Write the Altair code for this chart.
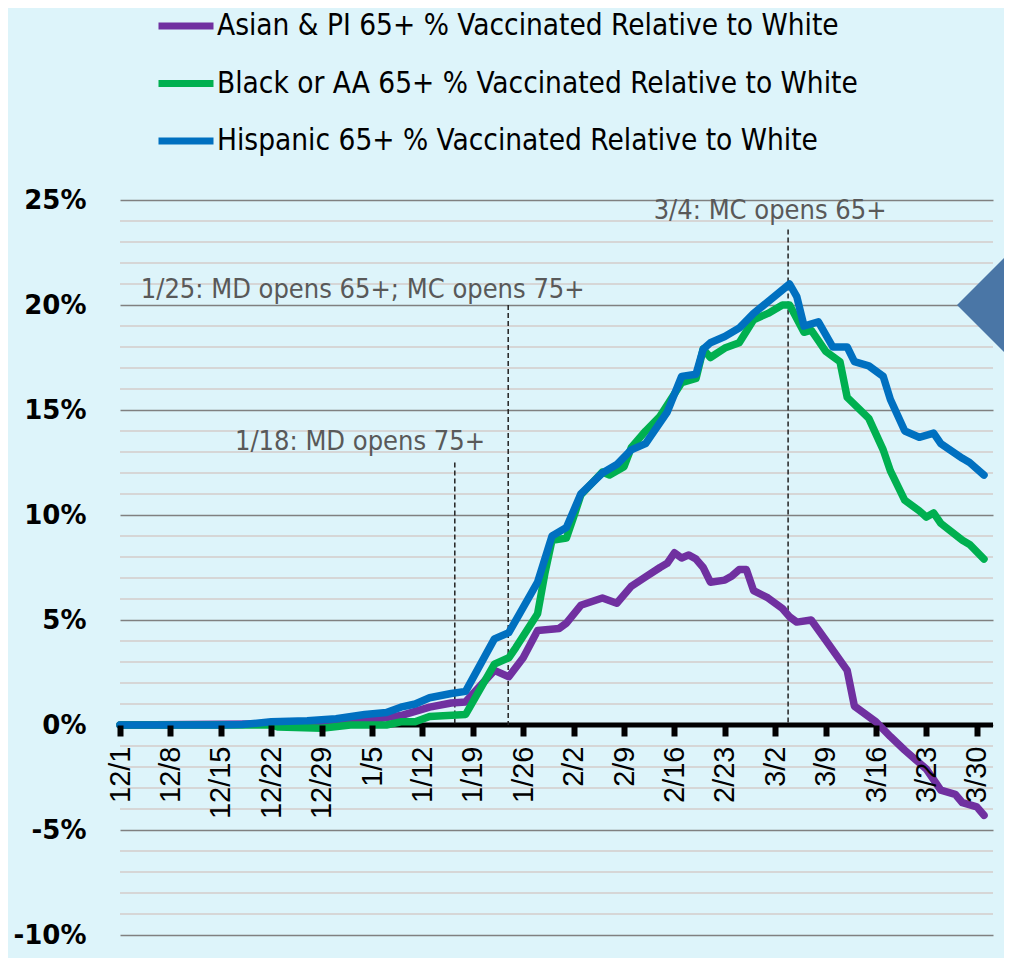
import altair as alt
import pandas as pd

# ---------------- data ----------------
series_names = [
    "Asian & PI 65+ % Vaccinated Relative to White",
    "Black or AA 65+ % Vaccinated Relative to White",
    "Hispanic 65+ % Vaccinated Relative to White",
]
series_colors = ["#7030A0", "#00B050", "#0070C0"]

asian_dates = ["12/1", "12/22", "12/29", "1/4", "1/7", "1/9", "1/13", "1/16", "1/18", "1/22",
               "1/24", "1/26", "1/28", "1/31", "2/1", "2/3", "2/6", "2/8", "2/10", "2/12",
               "2/14", "2/15", "2/16", "2/17", "2/18", "2/19", "2/20", "2/21", "2/23", "2/24",
               "2/25", "2/26", "2/27", "3/1", "3/3", "3/4", "3/5", "3/7", "3/9", "3/12",
               "3/13", "3/16", "3/18", "3/20", "3/22", "3/23", "3/25", "3/27", "3/28", "3/30",
               "3/31"]
asian_vals = [0, 0.05, 0.1, 0.2, 0.35, 0.45, 0.85, 1.05, 1.1, 2.6,
              2.3, 3.2, 4.5, 4.6, 4.85, 5.7, 6.05, 5.8, 6.6, 7.05,
              7.5, 7.7, 8.2, 7.95, 8.1, 7.9, 7.5, 6.8, 6.9, 7.1,
              7.4, 7.4, 6.4, 6.05, 5.55, 5.15, 4.9, 5.0, 4.05, 2.6,
              0.9, 0.15, -0.55, -1.2, -1.8, -2.1, -3.1, -3.3, -3.7, -3.9,
              -4.3]

black_dates = ["12/1", "12/22", "12/23", "12/29", "1/2", "1/7", "1/9", "1/11", "1/13", "1/18",
               "1/22", "1/24", "1/25", "1/28", "1/29", "1/30", "2/1", "2/2", "2/3", "2/6",
               "2/7", "2/9", "2/10", "2/12", "2/14", "2/17", "2/19", "2/20", "2/21", "2/23",
               "2/25", "2/27", "3/1", "3/3", "3/4", "3/6", "3/7", "3/9", "3/11", "3/12",
               "3/15", "3/17", "3/18", "3/20", "3/22", "3/23", "3/24", "3/25", "3/28", "3/29",
               "3/31"]
black_vals = [0, 0, -0.1, -0.15, 0, 0, 0.15, 0.15, 0.4, 0.5,
              2.9, 3.2, 3.7, 5.3, 7.2, 8.8, 8.9, 9.9, 10.95, 12.05,
              11.9, 12.3, 13.2, 14.0, 14.7, 16.3, 16.5, 17.9, 17.5, 17.95,
              18.2, 19.3, 19.6, 20.0, 20.0, 18.7, 18.8, 17.8, 17.3, 15.6,
              14.6, 13.1, 12.1, 10.7, 10.2, 9.9, 10.1, 9.6, 8.8, 8.6,
              7.9]

hisp_dates = ["12/1", "12/8", "12/15", "12/18", "12/22", "12/27", "12/31", "1/4", "1/7", "1/9",
              "1/11", "1/13", "1/16", "1/18", "1/22", "1/24", "1/28", "1/30", "2/1", "2/3",
              "2/6", "2/8", "2/10", "2/12", "2/15", "2/17", "2/19", "2/20", "2/21", "2/23",
              "2/25", "2/27", "3/4", "3/5", "3/6", "3/8", "3/10", "3/12", "3/13", "3/15",
              "3/17", "3/18", "3/20", "3/22", "3/24", "3/25", "3/28", "3/29", "3/31"]
hisp_vals = [0, 0, 0, 0.02, 0.15, 0.2, 0.3, 0.5, 0.6, 0.85,
             1.0, 1.3, 1.5, 1.6, 4.1, 4.4, 6.8, 9.0, 9.4, 11.0,
             12.0, 12.4, 13.1, 13.4, 14.9, 16.6, 16.7, 17.9, 18.2, 18.5,
             18.9, 19.6, 21.0, 20.4, 19.0, 19.2, 18.0, 18.0, 17.3, 17.1,
             16.6, 15.5, 14.0, 13.7, 13.9, 13.4, 12.7, 12.5, 11.9]

x_tick_labels = ["12/1", "12/8", "12/15", "12/22", "12/29", "1/5", "1/12", "1/19", "1/26",
                 "2/2", "2/9", "2/16", "2/23", "3/2", "3/9", "3/16", "3/23", "3/30"]
y_major_ticks = [-10, -5, 0, 5, 10, 15, 20, 25]
y_minor_ticks = [v for v in range(-10, 26) if v % 5 != 0]
zero_line = [0]

ann_labels = ["1/18: MD opens 75+", "1/25: MD opens 65+; MC opens 75+", "3/4: MC opens 65+"]
ann_line_dates = ["2021-01-16T12:00:00", "2021-01-23T22:00:00", "2021-03-03T19:00:00"]
ann_line_tops = [12.5, 20.0, 23.6]
ann_text_dates = ["2021-01-03T08:00:00", "2021-01-03T17:00:00", "2021-03-01T07:00:00"]
ann_text_y = [13.5, 20.7, 24.5]

marker_value = [20]


def md_year(md):
    m, d = (int(p) for p in md.split("/"))
    return (2020 if m == 12 else 2021), m, d


def to_ts(md):
    y, m, d = md_year(md)
    return pd.Timestamp(year=y, month=m, day=d)


def to_dt(md):
    y, m, d = md_year(md)
    return alt.DateTime(year=y, month=m, date=d)


rows = []
for name, dates, vals in [(series_names[0], asian_dates, asian_vals),
                          (series_names[1], black_dates, black_vals),
                          (series_names[2], hisp_dates, hisp_vals)]:
    for md, v in zip(dates, vals):
        rows.append({"series": name, "date": to_ts(md), "value": v})
df_lines = pd.DataFrame(rows)

df_ann_lines = pd.DataFrame({"date": pd.to_datetime(ann_line_dates), "top": ann_line_tops})
df_ann_text = pd.DataFrame({"date": pd.to_datetime(ann_text_dates), "y": ann_text_y, "label": ann_labels})
df_minor = pd.DataFrame({"v": y_minor_ticks})
df_zero = pd.DataFrame({"v": zero_line})
df_marker = pd.DataFrame({"v": marker_value})

# ---------------- styling ----------------
W, H = 873, 735
BG = "#DDF4FA"
NARROW = "Liberation Sans Narrow, DejaVu Sans Condensed, sans-serif"

x_scale = alt.Scale(domain=[alt.DateTime(year=2020, month=12, date=1),
                            alt.DateTime(year=2021, month=4, date=1, hours=6)])
y_scale = alt.Scale(domain=[-10, 25], nice=False, zero=False)

x_axis = alt.Axis(
    values=[to_dt(t) for t in x_tick_labels], format="%-m/%-d", title=None,
    labelAngle=-90, offset=-210, grid=False, domain=False, zindex=1,
    tickColor="black", tickWidth=6, tickSize=11,
    labelPadding=10, labelFont="Liberation Sans", labelFontSize=29,
    labelColor="black", labelOverlap=False, labelBound=False, labelFlush=False,
)
y_axis = alt.Axis(
    values=y_major_ticks, labelExpr="datum.value + '%'", title=None,
    grid=True, gridColor="#808080", gridWidth=1.6, domain=False, ticks=False,
    labelPadding=34, labelFont="DejaVu Sans", labelFontWeight="bold", labelFontSize=26,
    labelColor="black",
)

minor = alt.Chart(df_minor).mark_rule(color="#D6D6D6", strokeWidth=2).encode(
    y=alt.Y("v:Q", scale=y_scale, axis=y_axis)
)

zero = alt.Chart(df_zero).mark_rule(color="black", strokeWidth=5).encode(
    y=alt.Y("v:Q", scale=y_scale, axis=y_axis)
)

lines = alt.Chart(df_lines).mark_line(strokeWidth=7.5, strokeCap="round", strokeJoin="round").encode(
    x=alt.X("date:T", scale=x_scale, axis=x_axis),
    y=alt.Y("value:Q", scale=y_scale, axis=y_axis),
    color=alt.Color(
        "series:N",
        scale=alt.Scale(domain=series_names, range=series_colors),
        legend=alt.Legend(
            orient="none", legendX=35, legendY=-205, title=None,
            symbolType="stroke", symbolStrokeWidth=7, symbolSize=3025,
            labelFont=NARROW, labelFontSize=29.5, labelColor="black", labelLimit=0,
            labelOffset=0, rowPadding=11.5, padding=0,
        ),
    ),
)

ann_rules = alt.Chart(df_ann_lines).mark_rule(color="#222222", strokeWidth=1.5, strokeDash=[5, 3]).encode(
    x=alt.X("date:T", scale=x_scale, axis=x_axis),
    y=alt.Y("top:Q", scale=y_scale, axis=y_axis),
    y2=alt.datum(0),
)

ann_text = alt.Chart(df_ann_text).mark_text(
    font=NARROW, fontSize=27, color="#595959", align="center", baseline="middle"
).encode(
    x=alt.X("date:T", scale=x_scale, axis=x_axis),
    y=alt.Y("y:Q", scale=y_scale, axis=y_axis),
    text="label:N",
)

marker = alt.Chart(df_marker).mark_point(
    shape="M -0.5 0 L 0.5 -1 L 0.5 1 Z", size=8836, filled=True, color="#4A76A6",
    opacity=1, clip=False
).encode(
    x=alt.value(W - 12.5),
    y=alt.Y("v:Q", scale=y_scale, axis=y_axis),
)

chart = alt.layer(minor, zero, ann_rules, lines, ann_text, marker).properties(
    width=W, height=H,
    padding={"left": 112, "top": 192, "right": 11, "bottom": 23},
    autosize=alt.AutoSizeParams(type="none"),
    background=BG,
).configure_view(stroke=None)

chart.save("out.html", embed_options={"renderer": "svg", "actions": False})
